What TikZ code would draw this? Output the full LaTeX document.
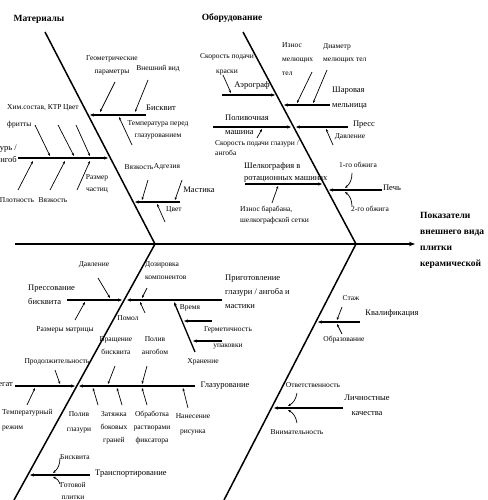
\documentclass[tikz,border=0pt]{standalone}
\usepackage{fontspec}
\setmainfont{Liberation Serif}
\usetikzlibrary{positioning,arrows.meta}

\tikzset{
  bone/.style={line width=1.5pt},
  rib/.style={line width=1.3pt, -{Stealth[length=4pt,width=3.2pt]}},
  cause/.style={line width=0.7pt, -{Stealth[length=3pt,width=2.4pt]}},
  catlabel/.style={font=\fontsize{9.5}{16}\selectfont\bfseries, inner sep=0pt},
  grplabel/.style={font=\fontsize{8.5}{14}\selectfont, inner sep=0pt, align=center},
  txt/.style={font=\fontsize{7.5}{13}\selectfont, inner sep=0pt, align=center},
}

\begin{document}
\begin{tikzpicture}[x=1pt,y=-1pt]
  \useasboundingbox (0,0) rectangle (487,500);
  \clip (0,0) rectangle (487,500);

  % main spine and the four bones
  \coordinate (tail) at (15,244);
  \coordinate (head) at (415,244);
  \coordinate (jM)   at (155,244);
  \coordinate (jO)   at (356,244);
  \coordinate (topM) at (45,32);
  \coordinate (topO) at (243,32);
  \coordinate (botL) at (14,500);
  \coordinate (botR) at (224,500);

  \draw[bone, -{Stealth[length=6pt,width=4.5pt]}] (tail) -- (head);
  \draw[bone] (topM) -- (jM);
  \draw[bone] (topO) -- (jO);
  \draw[bone] (jM) -- (botL);
  \draw[bone] (jO) -- (botR);

  \node[catlabel] (mat) at (39,19) {Материалы};
  \node[catlabel] (obo) at (232,18) {Оборудование};
  \node[catlabel, align=left, anchor=west] (res) at (420,240)
    {Показатели\\внешнего вида\\плитки\\керамической};

  % ribs
  \foreach \n/\xa/\ya/\xb/\yb in {
    bis/146/115/90/115, glz/18/158/108/158, mast/180/202/135/202,
    aero/222/95/275/95, mill/330/105/284/105, poliv/213/127/291/127,
    press/348/127/296/127, shelk/245/184/322/184, pech/382/190/329/190,
    pressB/67/300/122/300, prep/222/300/127/300, stor/195/352/174/302,
    time/212/321/184/321, herm/222/341/193/341, dry/15/386/75/386,
    glaz/195/386/79/386, trans/90/475/30/475,
    qual/360/322/318/322, pers/343/408/274/408%
  }{
    \coordinate (\n-s) at (\xa,\ya);
    \coordinate (\n-e) at (\xb,\yb);
    \draw[rib] (\n-s) -- (\n-e);
  }

  % rib labels
  \node[grplabel] (bis) at (161,108) {Бисквит};
  \node[grplabel, align=right, anchor=east, font=\fontsize{8.5}{12}\selectfont] (glz) at (17,154) {Глазурь /\\ангоб};
  \node[grplabel] (mast) at (199,190) {Мастика};
  \node[grplabel] (aero) at (252,85) {Аэрограф};
  \node[grplabel, align=left, anchor=west, font=\fontsize{8.5}{15}\selectfont] (mill) at (332,98) {Шаровая\\мельница};
  \node[grplabel, align=left, anchor=west] (poliv) at (225,125) {Поливочная\\машина};
  \node[grplabel] (press) at (364,125) {Пресс};
  \node[grplabel, align=left, anchor=west, font=\fontsize{8.5}{12}\selectfont] (shelk) at (244,172) {Шелкография в\\ротационных машинах};
  \node[grplabel] (pech) at (392,188) {Печь};
  \node[grplabel, align=left, anchor=west] (pressB) at (28,295) {Прессование\\бисквита};
  \node[grplabel, align=left, anchor=west] (prep) at (225,292) {Приготовление\\глазури / ангоба и\\мастики};
  \node[txt] (stor) at (203,362) {Хранение};
  \node[grplabel, anchor=east] (dry) at (13,385) {Сушильный агрегат};
  \node[grplabel] (glaz) at (225,386) {Глазурование};
  \node[grplabel, anchor=west] (trans) at (95,474) {Транспортирование};
  \node[grplabel] (qual) at (392,313) {Квалификация};
  \node[grplabel, font=\fontsize{8.5}{15}\selectfont] (pers) at (367,405) {Личностные\\качества};

  % causes
  \node[txt] (geom) at (112,65) {Геометрические\\параметры};
  \node[txt] (vid) at (158,69) {Внешний вид};
  \node[txt, font=\fontsize{7.5}{12}\selectfont] (tempB) at (158,130) {Температура перед\\глазурованием};
  \node[txt, align=left, anchor=west, font=\fontsize{7.5}{17}\selectfont] (chem) at (7,116) {Хим.состав, КТР\\фритты};
  \node[txt] (colG) at (71,108) {Цвет};
  \node[txt] (dens) at (17,200) {Плотность};
  \node[txt] (viscG) at (53,200) {Вязкость};
  \node[txt, font=\fontsize{7.5}{12}\selectfont] (size) at (97,184) {Размер\\частиц};
  \node[txt] (viscM) at (139,167) {Вязкость};
  \node[txt] (adh) at (167,167) {Адгезия};
  \node[txt] (colM) at (174,210) {Цвет};
  \node[txt, font=\fontsize{7.5}{15}\selectfont] (speedA) at (227,64) {Скорость подачи\\краски};
  \node[txt, align=left, anchor=west, font=\fontsize{7.5}{14}\selectfont] (wear) at (282,59) {Износ\\мелющих\\тел};
  \node[txt, align=left, anchor=west] (diam) at (323,53) {Диаметр\\мелющих тел};
  \node[txt, align=left, anchor=west, font=\fontsize{7.5}{10}\selectfont] (speedG) at (215,148) {Скорость подачи глазури /\\ангоба};
  \node[txt] (pres) at (350,137) {Давление};
  \node[txt, align=left, anchor=west, font=\fontsize{7.5}{11}\selectfont] (wearS) at (240,215) {Износ барабана,\\шелкографской сетки};
  \node[txt] (fire1) at (358,165) {1-го обжига};
  \node[txt] (fire2) at (370,209) {2-го обжига};
  \node[txt] (pressD) at (94,265) {Давление};
  \node[txt] (die) at (65,330) {Размеры матрицы};
  \node[txt, align=left, anchor=west] (dose) at (145,271) {Дозировка\\компонентов};
  \node[txt] (grind) at (128,318) {Помол};
  \node[txt] (timeL) at (190,308) {Время};
  \node[txt, font=\fontsize{7.5}{16}\selectfont] (hermL) at (228,338) {Герметичность\\упаковки};
  \node[txt] (dur) at (57,362) {Продолжительность};
  \node[txt, align=left, anchor=west, font=\fontsize{7.5}{15}\selectfont] (tempR) at (2,420) {Температурный\\режим};
  \node[txt] (rot) at (116,346) {Вращение\\бисквита};
  \node[txt] (engob) at (155,346) {Полив\\ангобом};
  \node[txt, font=\fontsize{7.5}{15}\selectfont] (glazP) at (79,422) {Полив\\глазури};
  \node[txt] (edge) at (114,428) {Затяжка\\боковых\\граней};
  \node[txt] (fix) at (152,428) {Обработка\\растворами\\фиксатора};
  \node[txt, font=\fontsize{7.5}{15}\selectfont] (print) at (193,424) {Нанесение\\рисунка};
  \node[txt] (bisT) at (75,457) {Бисквита};
  \node[txt, font=\fontsize{7.5}{12}\selectfont] (tile) at (73,491) {Готовой\\плитки};
  \node[txt] (exp) at (351,298) {Стаж};
  \node[txt] (edu) at (344,340) {Образование};
  \node[txt] (resp) at (313,385) {Ответственность};
  \node[txt] (att) at (297,432) {Внимательность};

  % cause arrows
  \foreach \n/\xa/\ya/\xb/\yb in {
    geom/115/82/100/112, vid/148/80/135/112, tempB/132/145/119/117,
    chemA/35/125/50/156, chemB/58/125/74/156, colG/76/125/90/156,
    dens/18/190/33/161, viscG/50/190/65/161, size/77/190/90/161,
    viscM/148/180/142/200, adh/182/180/175/200, colM/165/222/157/204,
    speedA/223/75/231/93, wear/312/72/297/103, diam/327/70/313/103,
    speedG/257/138/262/129, pres/333/145/326/129, wearS/272/203/278/186,
    pressD/98/278/110/298, die/75/320/85/302, dose/147/288/142/298,
    grind/145/313/140/302, dur/55/370/60/384, tempR/27/405/35/388,
    rot/115/366/108/384, engob/147/366/142/384, glazP/98/405/93/388,
    edge/122/405/117/388, fix/147/405/142/388, print/188/408/183/388,
    exp/342/307/337/320, edu/342/334/337/324%
  }{
    \coordinate (\n-a) at (\xa,\ya);
    \coordinate (\n-b) at (\xb,\yb);
    \draw[cause] (\n-a) -- (\n-b);
  }
  \foreach \n/\xa/\ya/\xb/\yb/\bd in {
    fire1/352/173/345/188/25, fire2/352/206/345/192/-25,
    bisT/60/458/53/473/25, tile/60/484/53/477/-25,
    resp/297/393/288/406/25, att/297/423/288/410/-25%
  }{
    \coordinate (\n-a) at (\xa,\ya);
    \coordinate (\n-b) at (\xb,\yb);
    \draw[cause] (\n-a) to[bend left=\bd] (\n-b);
  }
\end{tikzpicture}
\end{document}
